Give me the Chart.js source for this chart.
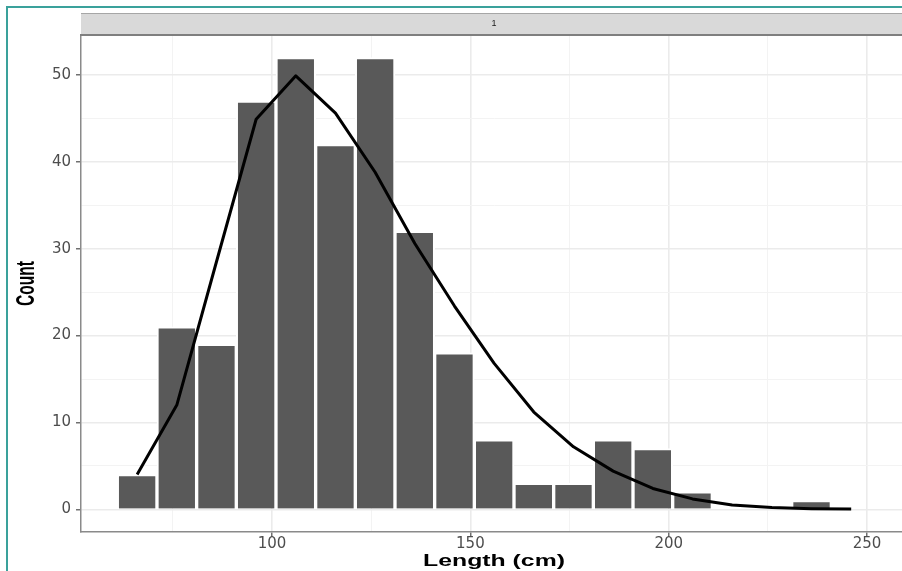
<!DOCTYPE html>
<html>
<head>
<meta charset="utf-8">
<script src="https://cdn.jsdelivr.net/npm/chart.js@4"></script>
<style>
  html, body { margin: 0; padding: 0; background: #fff; overflow: hidden; }
  #wrap { position: relative; width: 902px; height: 571px; overflow: hidden; }
  #frame {
    position: absolute; left: 6px; top: 6px; width: 1000px; height: 1000px;
    border-left: 2px solid #3aa19b; border-top: 2px solid #3aa19b;
    pointer-events: none;
  }
  canvas { position: absolute; left: 0; top: 0; }
</style>
</head>
<body>
<div id="wrap">
  <canvas id="chart" width="912" height="571" style="width:912px;height:571px"></canvas>
  <div id="frame"></div>
</div>
<script>
// histogram bins (centre of each 10 cm bin) and counts
const binCenters = [66, 76, 86, 96, 106, 116, 126, 136, 146, 156, 166, 176, 186, 196, 206, 216, 226, 236];
const binCounts = [4, 21, 19, 47, 52, 42, 52, 32, 18, 8, 3, 3, 8, 7, 2, 0, 0, 1];

// fitted curve
const curveX = [66, 76, 86, 96, 106, 116, 126, 136, 146, 156, 166, 176, 186, 196, 206, 216, 226, 236, 246];
const curveY = [4.0, 12.0, 28.5, 44.9, 49.9, 45.6, 38.8, 30.6, 23.4, 16.8, 11.2, 7.2, 4.4, 2.4, 1.2, 0.5, 0.2, 0.08, 0.03];

const xMajor = [100, 150, 200, 250];
const xMinor = [75, 125, 175, 225];
const yMajor = [0, 10, 20, 30, 40, 50];
const yMinor = [5, 15, 25, 35, 45];

const stripLabel = "1";
const xTitle = "Length (cm)";
const yTitle = "Count";

const tickFont = { family: "DejaVu Sans", size: 15 };

const facetStrip = {
  id: "facetStrip",
  afterDraw(chart) {
    const { ctx, chartArea } = chart;
    ctx.save();
    // strip on top of the panel
    ctx.fillStyle = "#d9d9d9";
    ctx.fillRect(chartArea.left, 13, chartArea.right - chartArea.left, chartArea.top - 13);
    ctx.strokeStyle = "#a6a6a6";
    ctx.lineWidth = 1;
    ctx.beginPath();
    ctx.moveTo(chartArea.left, 13.5);
    ctx.lineTo(chartArea.right, 13.5);
    ctx.stroke();
    ctx.strokeStyle = "#7f7f7f";
    ctx.lineWidth = 2;
    ctx.beginPath();
    ctx.moveTo(chartArea.left - 1, chartArea.top);
    ctx.lineTo(chartArea.right, chartArea.top);
    ctx.stroke();
    ctx.fillStyle = "#1a1a1a";
    ctx.font = "9px 'Liberation Sans'";
    ctx.textAlign = "center";
    ctx.textBaseline = "middle";
    ctx.fillText(stripLabel, (chartArea.left + chartArea.right) / 2, 24);

    // axis titles, stretched sideways like the original
    ctx.fillStyle = "#000";
    ctx.font = "bold 16px 'Liberation Sans'";
    ctx.save();
    ctx.translate((chartArea.left + chartArea.right) / 2, 566);
    ctx.scale(1.55, 1);
    ctx.textBaseline = "alphabetic";
    ctx.fillText(xTitle, 0, 0);
    ctx.restore();

    ctx.save();
    ctx.translate(27, (chartArea.top + chartArea.bottom) / 2);
    ctx.scale(1.7, 1);
    ctx.rotate(-Math.PI / 2);
    ctx.font = "bold 15.5px 'Liberation Sans'";
    ctx.textBaseline = "middle";
    ctx.fillText(yTitle, 0, 0);
    ctx.restore();
    ctx.restore();
  },
};

function isMajor(c, major) {
  return c.tick ? major.includes(c.tick.value) : true;
}
function gridColor(major) {
  return (c) => (isMajor(c, major) ? "#ebebeb" : "#f3f3f3");
}
function gridWidth(major) {
  return (c) => (isMajor(c, major) ? 1.6 : 1);
}
function tickColor(major) {
  return (c) => (isMajor(c, major) ? "#4d4d4d" : "rgba(0,0,0,0)");
}

new Chart(document.getElementById("chart"), {
  type: "bar",
  data: {
    datasets: [
      {
        type: "line",
        data: curveX.map((x, i) => ({ x, y: curveY[i] })),
        borderColor: "#000",
        borderWidth: 3,
        pointRadius: 0,
        tension: 0,
        borderJoinStyle: "round",
        fill: false,
        order: 1,
      },
      {
        type: "bar",
        data: binCenters.map((x, i) => ({ x, y: binCounts[i] })),
        backgroundColor: "#595959",
        borderColor: "#ffffff",
        borderWidth: 2,
        barPercentage: 1,
        categoryPercentage: 1,
        order: 2,
      },
    ],
  },
  options: {
    responsive: false,
    animation: false,
    layout: { padding: { left: 0, top: 35, right: 5, bottom: 0 } },
    plugins: {
      legend: { display: false },
      tooltip: { enabled: false },
    },
    scales: {
      x: {
        type: "linear",
        offset: false,
        min: 51.85,
        max: 260.07,
        afterBuildTicks: (s) => {
          s.ticks = [...xMajor, ...xMinor].sort((a, b) => a - b).map((v) => ({ value: v }));
        },
        afterFit: (s) => {
          s.height = 39;
          s.paddingLeft = 0;
          s.paddingRight = 0;
        },
        ticks: {
          autoSkip: false,
          maxRotation: 0,
          color: "#4d4d4d",
          font: tickFont,
          padding: -2,
          callback: (v) => (xMajor.includes(v) ? String(v) : ""),
        },
        grid: {
          offset: false,
          color: gridColor(xMajor),
          lineWidth: gridWidth(xMajor),
          tickColor: tickColor(xMajor),
          tickLength: 5,
          tickWidth: 1.2,
        },
        border: { display: true, color: "#8a8a8a", width: 1.5 },
      },
      y: {
        type: "linear",
        min: -2.61,
        max: 54.6,
        afterBuildTicks: (s) => {
          s.ticks = [...yMajor, ...yMinor].sort((a, b) => a - b).map((v) => ({ value: v }));
        },
        afterFit: (s) => {
          s.width = 81;
          s.paddingTop = 0;
          s.paddingBottom = 0;
        },
        ticks: {
          autoSkip: false,
          color: "#4d4d4d",
          font: tickFont,
          padding: 5,
          callback: (v) => (yMajor.includes(v) ? String(v) : ""),
        },
        grid: {
          color: gridColor(yMajor),
          lineWidth: gridWidth(yMajor),
          tickColor: tickColor(yMajor),
          tickLength: 5,
          tickWidth: 1.2,
        },
        border: { display: true, color: "#8a8a8a", width: 1.5 },
      },
    },
  },
  plugins: [facetStrip],
});
</script>
</body>
</html>
